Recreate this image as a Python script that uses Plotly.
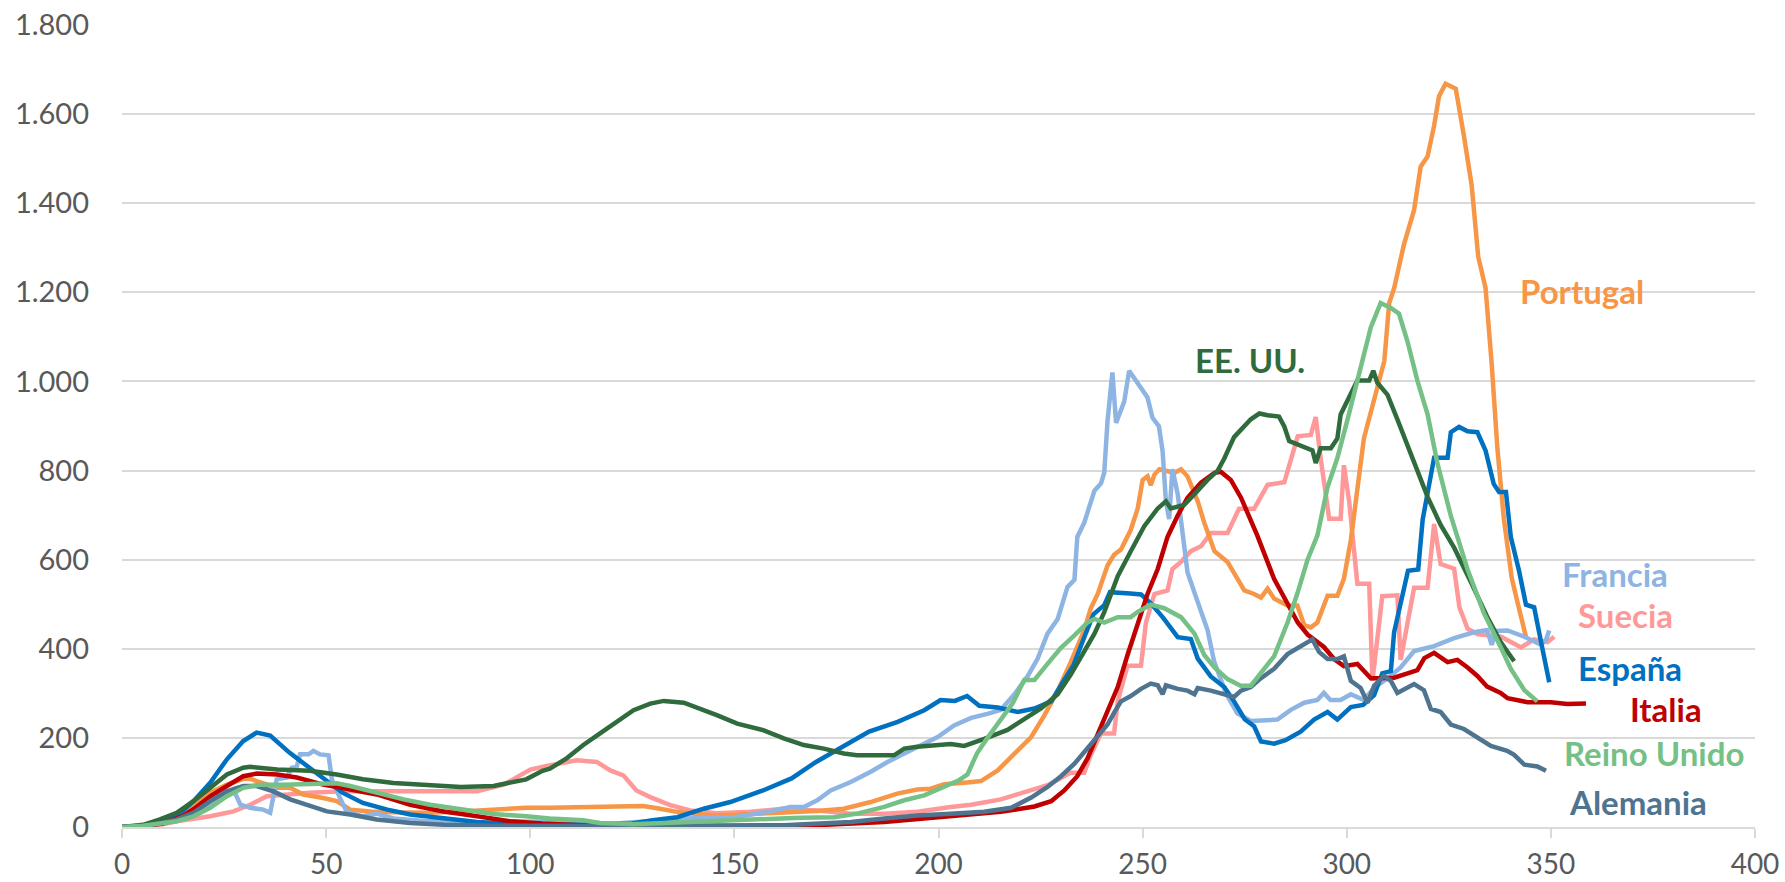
import plotly.graph_objects as go

# ---- data (days, value) ----
espana_x = [0, 5, 10, 13.4, 17.5, 21.6, 25.7, 29.7, 33, 36.3, 41, 46, 50, 54, 59, 65, 70.6, 79, 87, 95, 103, 115, 125, 130, 136, 142.5, 149, 157, 164, 170, 177, 183, 190, 196.5, 200.5, 204, 207, 210, 214.5, 219.4, 223.5, 227.6, 230.8, 233, 235.7, 238, 240.6, 242, 247, 249.6, 252, 255, 258.6, 261.8, 263.5, 266.7, 270, 272.4, 275, 277.3, 279, 282.2, 285, 288.7, 292, 295.3, 297.7, 301, 304, 306.7, 308.7, 310.8, 311.6, 313.2, 315, 317.5, 318.6, 321.4, 324.7, 325.5, 327.5, 329.6, 332, 334, 336, 337.3, 339, 340.2, 342.2, 343.9, 345.9, 347.6, 349.6]
espana_y = [0, 3, 10, 24, 58, 99, 152, 193, 212, 205, 167, 133, 103, 77, 54, 39, 28, 19, 11, 8, 5, 5, 8, 15, 22, 41, 56, 82, 109, 146, 184, 214, 236, 262, 285, 283, 294, 272, 268, 258, 266, 282, 330, 362, 426, 478, 498, 527, 524, 522, 502, 470, 426, 422, 378, 338, 314, 282, 242, 226, 192, 187, 195, 214, 241, 258, 241, 269, 274, 296, 345, 350, 437, 500, 575, 578, 690, 829, 829, 886, 898, 888, 886, 845, 770, 752, 752, 650, 575, 499, 493, 415, 325]

francia_x = [0, 5, 10, 15, 21.6, 25, 27.3, 29, 31.4, 34.6, 36.3, 37.9, 40.4, 41.6, 42.8, 43.6, 45.7, 46.9, 48.5, 50.6, 51.4, 53.4, 55, 59, 62.4, 66.5, 74.7, 83, 89.4, 95, 103, 121, 137.6, 150, 158, 163.7, 167, 170.3, 173.6, 178.5, 183.4, 187.5, 191.6, 195.7, 199.8, 203.8, 208, 212, 215.3, 218.6, 221.8, 224.3, 226.7, 229.2, 231.6, 233.3, 234, 235.7, 238.2, 239.8, 240.6, 241.4, 242.6, 243.5, 245.5, 246.7, 249.6, 251.2, 252.4, 254, 254.9, 255.7, 256.5, 257.3, 258.6, 259.8, 261, 263.5, 265.9, 267.5, 270.4, 273.2, 276.5, 283, 286.3, 289.6, 292.8, 294.4, 296, 298.5, 301, 304.2, 306.7, 310, 313.2, 316.5, 321.4, 326.3, 331.2, 334.4, 335.5, 336.5, 339.4, 343.5, 347.6, 348.8, 349.6]
francia_y = [0, 2, 8, 22, 50, 72, 84, 50, 43, 39, 32, 107, 111, 133, 135, 163, 163, 171, 163, 161, 107, 65, 35, 24, 30, 19, 13, 13, 8, 13, 11, 8, 19, 22, 34, 45, 45, 60, 82, 101, 124, 146, 165, 184, 202, 228, 245, 254, 263, 298, 338, 378, 434, 467, 539, 555, 651, 683, 755, 771, 795, 911, 1020, 907, 955, 1024, 984, 964, 919, 899, 843, 731, 691, 803, 747, 651, 571, 505, 442, 372, 300, 255, 238, 241, 263, 279, 285, 301, 285, 285, 298, 285, 312, 334, 358, 395, 406, 424, 437, 442, 409, 440, 441, 427, 409, 420, 441]

suecia_x = [0, 5, 10, 13.4, 17.5, 21.6, 27.3, 31.4, 35.5, 39.5, 46, 54, 62.4, 70.6, 78.8, 87, 93.5, 100, 104, 108, 111.4, 116.3, 119.6, 122.8, 126, 129.4, 134.3, 139.2, 145.7, 153.9, 162, 170.3, 178.5, 186.7, 194.8, 203, 208, 215.3, 221, 226.7, 230, 232.4, 235.7, 237.3, 239.8, 243, 243.9, 246.3, 249.6, 250.8, 252.9, 256.1, 257.3, 259.4, 261.8, 264.3, 266.7, 270.8, 273.6, 277.3, 280.6, 284.7, 288, 291.2, 292.4, 293.6, 295.7, 298.5, 299.3, 300.6, 302.6, 305.5, 306.3, 308.7, 312.4, 313.2, 316.5, 319.8, 321.4, 323, 326.3, 327.6, 329.6, 332, 337.8, 342.7, 345.9, 349.2, 350.8]
suecia_y = [0, 2, 6, 13, 18, 24, 35, 50, 69, 73, 77, 80, 80, 80, 78, 80, 95, 129, 137, 144, 150, 146, 127, 116, 82, 67, 49, 37, 31, 34, 41, 37, 30, 30, 34, 45, 50, 62, 78, 94, 110, 122, 122, 162, 210, 210, 282, 362, 362, 458, 523, 531, 579, 595, 619, 630, 660, 660, 714, 714, 768, 774, 877, 880, 920, 828, 692, 692, 812, 730, 546, 546, 328, 518, 520, 375, 537, 537, 680, 590, 580, 493, 445, 433, 427, 403, 421, 415, 427]

italia_x = [0, 5, 10, 15, 17.5, 21.6, 25.7, 29.7, 33, 38, 42.8, 49.3, 55.9, 62.4, 70.6, 78.8, 87, 95, 103, 115, 130, 150, 170, 186.7, 203, 215.3, 223.5, 227.6, 230.8, 234, 236.5, 239, 241.4, 243.9, 246.3, 248.8, 251.2, 253.7, 256.1, 258.6, 261, 264.3, 267.6, 269.2, 271.6, 274.1, 278.1, 282.2, 284.7, 288, 290.4, 294.4, 296.9, 299.3, 302.6, 305.9, 308.3, 311.6, 314.9, 317.3, 319, 321.4, 324.7, 327.1, 329.6, 332, 334.4, 337.7, 339.4, 342.6, 344.3, 350, 354, 358.6]
italia_y = [0, 2, 8, 25, 40, 69, 92, 114, 120, 118, 111, 95, 84, 73, 50, 35, 24, 13, 8, 3, 2, 2, 4, 11, 24, 34, 46, 58, 82, 114, 154, 210, 258, 314, 386, 458, 523, 579, 651, 699, 739, 773, 795, 797, 779, 739, 654, 557, 513, 459, 432, 404, 377, 361, 366, 334, 334, 335, 345, 352, 379, 391, 370, 375, 358, 339, 315, 301, 289, 283, 280, 280, 276, 277]

eeuu_x = [0, 5.2, 9.3, 13.4, 17.5, 21.6, 25.7, 29.7, 31.4, 38, 46, 52.6, 59, 66.5, 74.7, 83, 91, 99, 103, 104.8, 108.9, 113, 117.1, 121.2, 125.3, 129.4, 132.7, 137.6, 141.7, 145.7, 150.7, 157.2, 162.1, 167, 171.9, 176.8, 180, 189.1, 191.6, 194.8, 203, 206.3, 211.2, 216.9, 221, 225.1, 229.2, 232.4, 235.7, 238.2, 240.6, 243.9, 247.1, 250.4, 253.7, 255.7, 256.9, 260.2, 262.7, 265.9, 268.4, 270, 272.4, 274.9, 276.5, 278.6, 280.6, 283.4, 284.7, 285.9, 288.7, 291.6, 292.4, 293.6, 296.1, 297.7, 298.5, 300.2, 302.6, 305.5, 306.5, 307.5, 310, 312.4, 315.7, 319.8, 323, 326.3, 330.4, 334.4, 337.7, 341]
eeuu_y = [0, 5, 17, 32, 58, 88, 118, 133, 135, 129, 126, 118, 107, 99, 94, 90, 92, 107, 126, 131, 154, 184, 210, 236, 262, 277, 283, 279, 266, 251, 232, 217, 199, 184, 176, 165, 161, 161, 176, 180, 186, 182, 198, 218, 242, 266, 298, 342, 394, 434, 482, 563, 619, 675, 715, 731, 715, 723, 747, 779, 800, 827, 875, 899, 915, 928, 924, 921, 899, 866, 855, 845, 817, 850, 850, 872, 926, 959, 1002, 1002, 1024, 997, 970, 915, 835, 741, 678, 627, 550, 472, 415, 372]

portugal_x = [0, 5, 9.3, 13.4, 17.5, 21.6, 25.7, 28.9, 30.6, 33, 38, 41.2, 44.4, 49.3, 52.6, 55.9, 60.8, 66.5, 74.7, 83, 91, 99, 104.8, 113, 121.2, 127.7, 131.8, 135.9, 140.8, 145.7, 153.9, 162.1, 170.3, 176.8, 183.4, 189.9, 194.8, 198.1, 201.4, 207, 210.4, 214.5, 217.8, 219.4, 222.7, 225.9, 229.2, 232.4, 235.7, 237.3, 239, 241.4, 243, 244.7, 247.1, 248.8, 250, 251.2, 252, 252.9, 254.1, 257.8, 259.4, 261, 263.5, 265.1, 267.6, 270.8, 273.3, 274.9, 277.3, 279, 280.6, 282.2, 285.5, 287.9, 289.6, 291.2, 292.8, 295.3, 297.7, 299.3, 301, 302.6, 304.2, 306.7, 309.2, 310.4, 311.6, 314, 316.5, 318.1, 319.8, 321.4, 322.6, 324.2, 326.7, 328.7, 330.6, 332.2, 334, 335.5, 336.9, 338.5, 340.4, 341.8, 343.9]
portugal_y = [0, 2, 9, 25, 47, 77, 95, 107, 111, 103, 88, 88, 73, 65, 58, 39, 35, 33, 32, 35, 39, 43, 43, 44, 45, 47, 41, 34, 29, 26, 29, 32, 36, 41, 56, 75, 84, 86, 96, 100, 103, 127, 157, 170, 202, 250, 306, 370, 442, 491, 523, 587, 611, 623, 667, 715, 779, 787, 767, 791, 803, 795, 803, 787, 731, 683, 619, 595, 555, 531, 523, 515, 535, 513, 497, 497, 453, 448, 459, 519, 519, 557, 644, 752, 872, 959, 1046, 1176, 1209, 1307, 1385, 1482, 1505, 1574, 1640, 1668, 1657, 1551, 1440, 1280, 1210, 1040, 850, 690, 560, 505, 427]

reino_x = [0, 5.2, 13.4, 17.5, 21.6, 25.7, 29.7, 33.8, 39.5, 46, 52.6, 55.9, 62.4, 69, 75.5, 82.8, 91, 99, 104.8, 113, 117, 125.3, 133.5, 141.7, 149.8, 158, 166.2, 174.4, 180.1, 186.7, 191.6, 196.5, 201.4, 205, 207.1, 209.4, 211.6, 214.9, 218.2, 221, 223.5, 226.7, 230, 233.3, 236.5, 238.2, 240.6, 243.9, 247.1, 248.8, 252, 255.3, 259.4, 262.7, 265.1, 267.6, 270.8, 274, 276.5, 278.9, 282.2, 285.5, 287.9, 290.4, 292.8, 295.3, 297.7, 300.2, 303.4, 305.9, 308.3, 310.8, 312.8, 314.9, 317.3, 319.8, 322.2, 325.5, 329.6, 333.6, 337.7, 340.2, 343.5, 346.7]
reino_y = [0, 3, 13, 24, 43, 69, 88, 95, 95, 97, 98, 92, 77, 62, 50, 39, 29, 24, 19, 15, 9, 6, 9, 13, 17, 19, 21, 22, 30, 45, 60, 71, 90, 105, 118, 165, 195, 235, 278, 330, 330, 366, 402, 430, 459, 467, 459, 471, 471, 483, 499, 491, 471, 434, 386, 358, 332, 317, 317, 345, 383, 459, 524, 600, 654, 763, 828, 915, 1035, 1122, 1176, 1165, 1152, 1089, 1002, 926, 817, 698, 578, 480, 404, 355, 307, 282]

alemania_x = [0, 5, 9.3, 13.4, 17.5, 21.6, 25.7, 29.7, 33, 37.1, 41.2, 46, 50.2, 55.9, 62.4, 70.6, 78.8, 90, 120, 150, 162.1, 170.3, 178.5, 186.7, 194.8, 203, 211.2, 217.8, 222.7, 226.7, 230, 233.3, 236.5, 239, 241.4, 243.1, 244.7, 247.1, 249.6, 252, 253.7, 254.9, 255.7, 258.6, 261, 262.7, 263.5, 266.7, 269.1, 272.4, 274.1, 276.5, 279, 282.2, 285.5, 288.7, 291.6, 293.2, 295.3, 297.7, 299.3, 301, 303.4, 305.1, 306.7, 309.1, 310.8, 312.4, 314.9, 316.5, 318.9, 320.6, 323, 325.5, 328.7, 332, 335.3, 339.3, 341, 343.5, 346.7, 348.8]
alemania_y = [0, 2, 8, 17, 32, 58, 80, 92, 92, 80, 62, 47, 35, 28, 17, 9, 5, 3, 2, 2, 4, 8, 11, 19, 26, 30, 34, 43, 66, 90, 114, 142, 178, 206, 230, 258, 282, 294, 310, 322, 318, 298, 318, 310, 306, 298, 312, 306, 301, 292, 306, 314, 334, 355, 388, 404, 421, 393, 377, 377, 383, 328, 312, 279, 317, 339, 328, 301, 312, 321, 307, 265, 258, 230, 220, 200, 182, 171, 162, 140, 136, 126]

y_tick_vals = [0, 200, 400, 600, 800, 1000, 1200, 1400, 1600, 1800]
y_tick_text = ["0", "200", "400", "600", "800", "1.000", "1.200", "1.400", "1.600", "1.800"]
x_tick_vals = [0, 50, 100, 150, 200, 250, 300, 350, 400]

# (name, x, y, colour, label x, label y)
series = [
    ("Suecia", suecia_x, suecia_y, "#FF9999", 368.3, 476),
    ("Portugal", portugal_x, portugal_y, "#F79646", 357.6, 1203),
    ("Francia", francia_x, francia_y, "#8DB4E2", 365.6, 568),
    ("España", espana_x, espana_y, "#0070C0", 369.4, 357),
    ("Italia", italia_x, italia_y, "#C00000", 378.3, 265),
    ("EE. UU.", eeuu_x, eeuu_y, "#2F6B3C", 276.3, 1048),
    ("Alemania", alemania_x, alemania_y, "#4E7490", 371.3, 56),
    ("Reino Unido", reino_x, reino_y, "#74C085", 375.3, 166),
]

fig = go.Figure()
for name, xs, ys, col, lx, ly in series:
    fig.add_trace(go.Scatter(x=xs, y=ys, mode="lines", name=name,
                             line=dict(color=col, width=4.5), showlegend=False,
                             hoverinfo="skip"))
    fig.add_annotation(x=lx, y=ly, text="<b>%s</b>" % name, showarrow=False,
                       xanchor="center", yanchor="middle",
                       font=dict(family="Lato", size=33, color=col))

fig.update_layout(
    width=1785, height=882,
    margin=dict(l=122, r=30, t=25, b=55),
    paper_bgcolor="white", plot_bgcolor="white",
    font=dict(family="Lato", size=29, color="#595959"),
)
fig.update_xaxes(range=[0, 400], tickvals=x_tick_vals, showgrid=False,
                 showline=True, linecolor="#D9D9D9", linewidth=1.5,
                 ticks="outside", ticklen=9, tickcolor="#D9D9D9", tickwidth=1.5,
                 zeroline=False, ticklabelstandoff=3, automargin=False,
                 tickfont=dict(family="Lato", size=28, color="#595959"))
fig.update_yaxes(range=[0, 1800], tickvals=y_tick_vals, ticktext=y_tick_text,
                 showgrid=True, gridcolor="#D9D9D9", gridwidth=1.5,
                 zeroline=False, showline=False, ticklabelstandoff=32,
                 automargin=False,
                 tickfont=dict(family="Lato", size=29, color="#595959"))

fig.write_html("out.html", config={"displayModeBar": False},
               post_script="document.body.style.margin='0';document.body.style.overflow='hidden';")
